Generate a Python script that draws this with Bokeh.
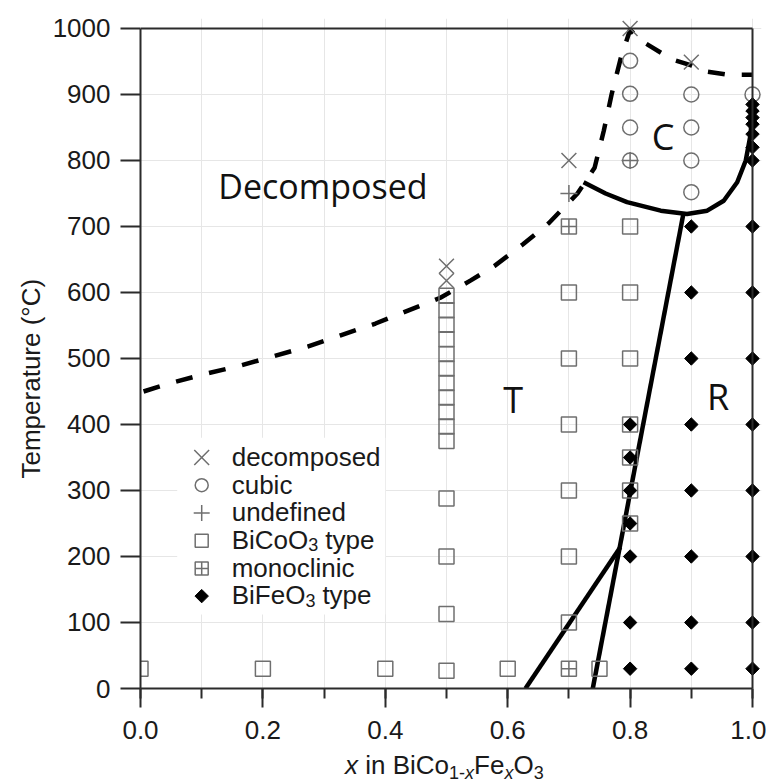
from bokeh.plotting import figure
from bokeh.layouts import column
from bokeh.models import (Range1d, LinearAxis, SingleIntervalTicker, FixedTicker,
                          PrintfTickFormatter, Label, Grid, Div, Title, BoxAnnotation)
from bokeh.embed import file_html
from bokeh.resources import INLINE

# ---------------- data ----------------
decomposed_x = [0.5, 0.5, 0.7, 0.8, 0.9]
decomposed_t = [640, 618, 800, 1000, 949]

cubic_x = [0.8, 0.8, 0.8, 0.8, 0.9, 0.9, 0.9, 0.9, 1.0]
cubic_t = [951, 901, 850, 800, 900, 850, 800, 752, 900]

undefined_x = [0.7, 0.8]
undefined_t = [750, 800]

bicoo3_x = [0.0, 0.2, 0.4, 0.6, 0.75,
            0.5, 0.5, 0.5, 0.5, 0.5, 0.5, 0.5, 0.5, 0.5, 0.5, 0.5,
            0.5, 0.5, 0.5, 0.5,
            0.7, 0.7, 0.7, 0.7, 0.7, 0.7,
            0.8, 0.8, 0.8, 0.8, 0.8, 0.8, 0.8]
bicoo3_t = [30, 30, 30, 30, 30,
            595, 573, 551, 529, 507, 485, 463, 441, 419, 397, 375,
            288, 200, 113, 27,
            600, 500, 400, 300, 200, 100,
            700, 600, 500, 400, 350, 300, 250]

monoclinic_x = [0.7, 0.7]
monoclinic_t = [700, 30]

bifeo3_x = [0.8, 0.8, 0.8, 0.8, 0.8, 0.8, 0.8,
            0.9, 0.9, 0.9, 0.9, 0.9, 0.9, 0.9, 0.9,
            1.0, 1.0, 1.0, 1.0, 1.0, 1.0, 1.0, 1.0,
            1.0, 1.0, 1.0, 1.0, 1.0, 1.0, 1.0]
bifeo3_t = [400, 350, 300, 250, 200, 100, 30,
            700, 600, 500, 400, 300, 200, 100, 30,
            30, 100, 200, 300, 400, 500, 600, 700,
            800, 820, 840, 855, 865, 875, 885]

# phase boundaries
decomp_line_x = [0.005, 0.046, 0.103, 0.158, 0.216, 0.273, 0.327, 0.384, 0.438,
                 0.490, 0.539, 0.578, 0.625, 0.667, 0.714, 0.742, 0.757, 0.770,
                 0.785, 0.800, 0.817, 0.869, 0.900, 0.923, 0.960, 1.000]
decomp_line_t = [450, 462, 476, 488, 503, 518, 535, 553, 573,
                 592, 618, 640, 673, 705, 750, 789, 845, 901,
                 956, 998, 982, 953, 944, 935, 930, 930]

cubic_line_x = [0.724, 0.760, 0.795, 0.850, 0.893, 0.926, 0.953, 0.975, 0.989, 0.997, 1.000]
cubic_line_t = [767, 750, 737, 724, 719, 724, 739, 767, 800, 840, 890]

tr_line_x = [0.739, 0.887]
tr_line_t = [0, 719]

branch_line_x = [0.629, 0.784]
branch_line_t = [0, 214]

legend_labels = ["decomposed", "cubic", "undefined", "BiCoO|3|type", "monoclinic", "BiFeO|3|type"]

x_ticks_major = 0.2
y_ticks_major = 100

# ---------------- styles ----------------
GRAY = "#6f6f6f"
AX = "#2b2b2b"
TXT = "#1a1a1a"
FONT = "Liberation Sans"

p = figure(frame_width=621, frame_height=670,
           x_range=Range1d(0, 1.0147), y_range=Range1d(0, 1015.15),
           x_axis_type=None, y_axis_type=None,
           output_backend="svg", toolbar_location=None,
           min_border_left=140, min_border_right=5, min_border_top=18,
           min_border_bottom=58)
p.outline_line_color = None
p.background_fill_color = "white"

# grids
p.add_layout(Grid(dimension=0, ticker=SingleIntervalTicker(interval=0.1),
                  grid_line_color="#e6e6e6", grid_line_width=1))
p.add_layout(Grid(dimension=1, ticker=SingleIntervalTicker(interval=100),
                  grid_line_color="#e6e6e6", grid_line_width=1))

# axes
xaxis = LinearAxis(bounds=(0, 1),
                   ticker=SingleIntervalTicker(interval=x_ticks_major, num_minor_ticks=2),
                   formatter=PrintfTickFormatter(format="%.1f"))
xaxis.major_tick_out = 19
xaxis.major_tick_in = 0
xaxis.minor_tick_out = 10
xaxis.minor_tick_in = 0
xaxis.major_label_standoff = 13
p.add_layout(xaxis, "below")

yaxis = LinearAxis(bounds=(0, 1000),
                   ticker=SingleIntervalTicker(interval=y_ticks_major, num_minor_ticks=0),
                   formatter=PrintfTickFormatter(format="%d"))
yaxis.major_tick_out = 20
yaxis.major_tick_in = 0
yaxis.major_label_standoff = 10
p.add_layout(yaxis, "left")

for ax in (xaxis, yaxis):
    ax.axis_line_color = AX
    ax.axis_line_width = 2
    ax.major_tick_line_color = AX
    ax.major_tick_line_width = 2
    ax.minor_tick_line_color = AX if ax is xaxis else None
    ax.minor_tick_line_width = 2
    ax.major_label_text_font = FONT
    ax.major_label_text_font_size = "26px"
    ax.major_label_text_color = TXT

ytitle = Title(text="Temperature (°C)", align="left", offset=210, standoff=8,
               text_font=FONT, text_font_size="26px", text_font_style="normal",
               text_color=TXT)
p.add_layout(ytitle, "left")

top = LinearAxis(fixed_location=1000, bounds=(0, 1), ticker=FixedTicker(ticks=[]))
right = LinearAxis(fixed_location=1.0, bounds=(0, 1000), ticker=FixedTicker(ticks=[]))
for ax in (top, right):
    ax.axis_line_color = AX
    ax.axis_line_width = 2
    ax.major_tick_line_color = None
    ax.minor_tick_line_color = None
    ax.major_tick_out = 0
    ax.major_tick_in = 0
    ax.minor_tick_out = 0
    ax.major_label_text_font_size = "0px"
p.add_layout(top, "above")
p.add_layout(right, "right")

# boundaries
p.line(decomp_line_x, decomp_line_t, line_color="black", line_width=4.5, line_dash="17 17")
p.line(cubic_line_x, cubic_line_t, line_color="black", line_width=4.5)
p.line(tr_line_x, tr_line_t, line_color="black", line_width=4.5)
p.line(branch_line_x, branch_line_t, line_color="black", line_width=4.5)

# markers
STY = {
    "dec": dict(marker="x", size=21, line_color=GRAY, line_width=1.5),
    "cub": dict(marker="circle", size=15, fill_color=None, line_color=GRAY, line_width=1.5),
    "und": dict(marker="cross", size=17, line_color=GRAY, line_width=1.5),
    "sq": dict(marker="square", size=15, fill_color=None, line_color=GRAY, line_width=1.5),
    "mono": dict(marker="square_cross", size=15, fill_color=None, line_color=GRAY, line_width=1.5),
    "fe": dict(marker="square", angle=0.785398, size=9.5, fill_color="black",
               line_color="black", line_width=1),
}
p.scatter(bicoo3_x, bicoo3_t, **STY["sq"])
p.scatter(monoclinic_x, monoclinic_t, **STY["mono"])
p.scatter(cubic_x, cubic_t, **STY["cub"])
p.scatter(undefined_x, undefined_t, **STY["und"])
p.scatter(decomposed_x, decomposed_t, **STY["dec"])
p.scatter(bifeo3_x, bifeo3_t, **STY["fe"])

# ---------------- legend (keys + labels) ----------------
LEG_X = 0.1          # key column (data units)
LEG_TX = 0.149       # text column
LEG_TOP = 350        # first row (data units)
LEG_STEP = 42        # row pitch (data units)
p.add_layout(BoxAnnotation(left=0.06, right=0.40, bottom=112, top=380, level="underlay",
                           fill_color="white", fill_alpha=1, line_color=None))
key_styles = ["dec", "cub", "und", "sq", "mono", "fe"]
for i, (lab, key) in enumerate(zip(legend_labels, key_styles)):
    ty = LEG_TOP - i * LEG_STEP
    st = dict(STY[key])
    if key in ("cub", "sq", "mono"):
        st["size"] = 13
    if key == "und":
        st["size"] = 16
    p.scatter([LEG_X], [ty], **st)
    parts = lab.split("|")
    base_y = ty + 1          # alphabetic baseline (data units)
    if len(parts) == 1:
        p.add_layout(Label(x=LEG_TX, y=base_y, text=lab, text_font=FONT, text_font_size="26px",
                           text_baseline="alphabetic", text_color=TXT))
    else:
        main, sub, rest = parts
        w_main = {"BiCoO": 76.6, "BiFeO": 73.7}[main]
        p.add_layout(Label(x=LEG_TX, y=base_y, text=main, text_font=FONT, text_font_size="26px",
                           text_baseline="alphabetic", text_color=TXT))
        p.add_layout(Label(x=LEG_TX, y=base_y - 7, x_offset=w_main, text=sub, text_font=FONT,
                           text_font_size="18px", text_baseline="alphabetic", text_color=TXT))
        p.add_layout(Label(x=LEG_TX, y=base_y, x_offset=w_main + 17, text=rest, text_font=FONT,
                           text_font_size="26px", text_baseline="alphabetic", text_color=TXT))

# region labels
for txt, lx, ly, fs in [("Decomposed", 0.298, 762, "34px"), ("C", 0.854, 837, "36px"),
                        ("T", 0.609, 438, "36px"), ("R", 0.944, 443, "36px")]:
    p.add_layout(Label(x=lx, y=ly, text=txt, text_font="Open Sans", text_font_size=fs,
                       text_align="center", text_baseline="alphabetic", text_color="#111111"))

# x axis title as HTML (italic x, subscripts)
SUB = 'style="font-size:18px;position:relative;top:5px"'
title_html = ('<i>x</i> in BiCo<span %s>1-<i>x</i></span>Fe<span %s><i>x</i></span>'
              'O<span %s>3</span>') % (SUB, SUB, SUB)
xtitle = Div(text=title_html, width=300, height=28, margin=(5, 0, 0, 345),
             styles={"font-family": FONT, "font-size": "26px", "line-height": "28px",
                     "color": TXT, "white-space": "nowrap", "padding": "0"})

layout = column(p, xtitle, spacing=0)
open("out.html", "w").write(file_html(layout, INLINE))
